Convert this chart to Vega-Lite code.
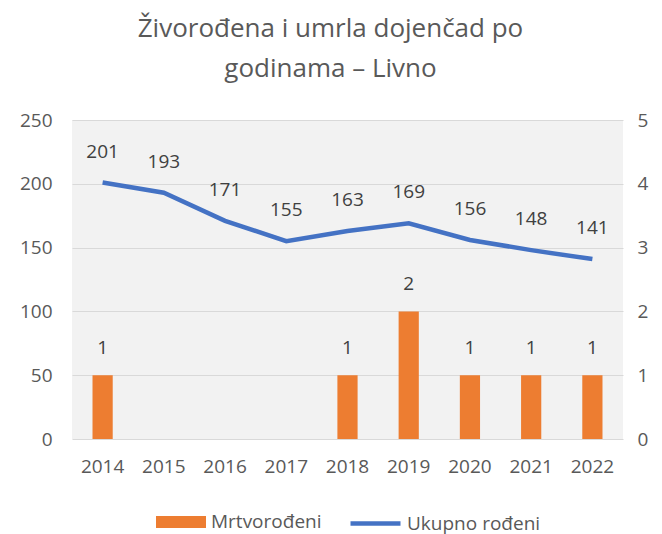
{
  "$schema": "https://vega.github.io/schema/vega-lite/v6.json",
  "autosize": "none",
  "width": 551,
  "height": 319,
  "padding": {"left": 72, "top": 120, "right": 39, "bottom": 95},
  "background": "white",
  "view": {"fill": "#F2F2F2", "stroke": null},
  "config": {
    "font": "Open Sans",
    "axis": {"labelColor": "#595959", "labelFontSize": 19, "domain": false, "ticks": false, "grid": false, "labelOverlap": false},
    "legend": {"layout": {"bottom": {"anchor": "middle", "direction": "horizontal", "margin": 26}}}
  },
  "title": {"text": ["Živorođena i umrla dojenčad po", "godinama – Livno"], "fontSize": 26, "fontWeight": "normal", "color": "#595959", "anchor": "middle", "dx": -17, "offset": 29, "lineHeight": 40},
  "data": {"values": [
    {"godina": "2014", "ukupno": 201, "mrtvo": 1},
    {"godina": "2015", "ukupno": 193, "mrtvo": 0},
    {"godina": "2016", "ukupno": 171, "mrtvo": 0},
    {"godina": "2017", "ukupno": 155, "mrtvo": 0},
    {"godina": "2018", "ukupno": 163, "mrtvo": 1},
    {"godina": "2019", "ukupno": 169, "mrtvo": 2},
    {"godina": "2020", "ukupno": 156, "mrtvo": 1},
    {"godina": "2021", "ukupno": 148, "mrtvo": 1},
    {"godina": "2022", "ukupno": 141, "mrtvo": 1}
  ]},
  "encoding": {
    "x": {"field": "godina", "type": "nominal", "axis": {"title": null, "labelAngle": 0, "labelPadding": 18}, "scale": {"paddingInner": 0.67, "paddingOuter": 0.335}}
  },
  "layer": [
    {
      "layer": [
        {
          "mark": {"type": "bar", "color": "#ED7D31"},
          "encoding": {
            "y": {"field": "mrtvo", "type": "quantitative", "scale": {"domain": [0, 5], "nice": false}, "axis": {"orient": "right", "title": null, "values": [0,1,2,3,4,5], "format": "d", "labelPadding": 14}},
            "color": {"datum": "Mrtvorođeni", "type": "nominal", "scale": {"range": ["#ED7D31"]}, "legend": {"orient": "bottom", "title": null, "symbolType": "M-1,-0.24H1V0.24H-1Z", "symbolSize": 2500, "labelFontSize": 19, "labelColor": "#595959", "offset": 20, "symbolOpacity": 1}}
          }
        },
        {
          "transform": [{"filter": "datum.mrtvo > 0"}],
          "mark": {"type": "text", "fontSize": 19, "color": "#404040", "dy": -27, "baseline": "middle"},
          "encoding": {
            "y": {"field": "mrtvo", "type": "quantitative"},
            "text": {"field": "mrtvo", "type": "quantitative"}
          }
        }
      ]
    },
    {
      "layer": [
        {
          "mark": {"type": "line", "strokeWidth": 4.5, "color": "#4472C4"},
          "encoding": {
            "y": {"field": "ukupno", "type": "quantitative", "scale": {"domain": [0, 250], "nice": false}, "axis": {"orient": "left", "title": null, "values": [0,50,100,150,200,250], "grid": true, "gridColor": "#D9D9D9", "labelPadding": 20}},
            "stroke": {"datum": "Ukupno rođeni", "type": "nominal", "scale": {"range": ["#4472C4"]}, "legend": {"orient": "bottom", "title": null, "symbolType": "stroke", "symbolStrokeWidth": 4.5, "symbolSize": 2500, "labelFontSize": 19, "labelColor": "#595959", "offset": 20}}
          }
        },
        {
          "mark": {"type": "text", "fontSize": 19, "color": "#404040", "dy": -31, "baseline": "middle"},
          "encoding": {
            "y": {"field": "ukupno", "type": "quantitative"},
            "text": {"field": "ukupno", "type": "quantitative"}
          }
        }
      ]
    }
  ],
  "resolve": {"scale": {"y": "independent"}}
}
